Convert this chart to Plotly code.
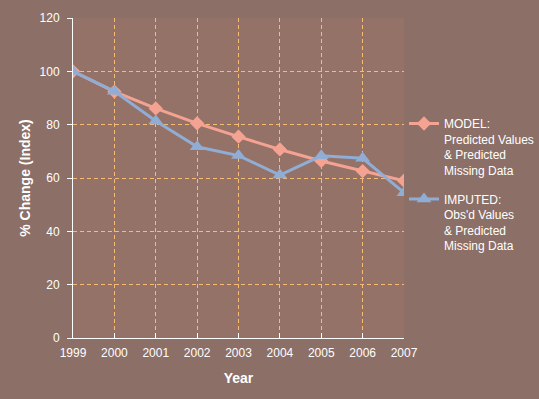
import plotly.graph_objects as go

years = [1999, 2000, 2001, 2002, 2003, 2004, 2005, 2006, 2007]
model = [100, 92.4, 86.1, 80.5, 75.5, 70.7, 66.4, 62.6, 59.0]
imputed = [100, 92.5, 81.4, 71.7, 68.4, 61.1, 68.3, 67.4, 54.5]
model_name = "MODEL:<br>Predicted Values<br>& Predicted<br>Missing Data"
imputed_name = "IMPUTED:<br>Obs'd Values<br>& Predicted<br>Missing Data"

fig = go.Figure()
fig.add_trace(go.Scatter(
    x=years, y=model, name=model_name, mode="lines+markers", legendgroup="a",
    line=dict(color="#F4A292", width=3),
    marker=dict(symbol="diamond", size=11, color="#F4A292"),
))
fig.add_trace(go.Scatter(
    x=years, y=imputed, name=imputed_name, mode="lines+markers", legendgroup="b",
    line=dict(color="#8FADD5", width=3),
    marker=dict(symbol="triangle-up", size=13, color="#8FADD5"),
))

grid = dict(showgrid=True, gridcolor="#F7BC72", griddash="4px,3px", gridwidth=1)
fig.update_layout(
    width=539, height=399,
    paper_bgcolor="#8C6F66",
    plot_bgcolor="#957267",
    margin=dict(l=73, r=135, t=18, b=61, autoexpand=False),
    font=dict(family="Liberation Sans, Arial", color="#FFFFFF", size=12),
    xaxis=dict(
        range=[1999, 2007], tickmode="array", tickvals=years,
        ticktext=[str(y) for y in years],
        showline=True, linecolor="#FFFFFF", linewidth=1,
        ticks="inside", ticklen=5, tickcolor="#FFFFFF",
        ticklabelstandoff=4,
        zeroline=False,
        title=dict(text="<b>Year</b>", font=dict(size=14), standoff=13),
        **grid,
    ),
    yaxis=dict(
        range=[0, 120], tickmode="array", tickvals=[0, 20, 40, 60, 80, 100, 120],
        showline=True, linecolor="#FFFFFF", linewidth=1,
        ticks="outside", ticklen=5, tickcolor="#FFFFFF",
        ticklabelstandoff=5,
        zeroline=False,
        title=dict(text="<b>% Change (Index)</b>", font=dict(size=14), standoff=5),
        **grid,
    ),
    legend=dict(
        x=1.0, y=0.715, xanchor="left", yanchor="top",
        valign="top", bgcolor="rgba(0,0,0,0)",
        traceorder="grouped", tracegroupgap=10,
        font=dict(family="Liberation Sans, Arial", size=12, color="#FFFFFF"),
    ),
    showlegend=True,
)
fig.write_html("out.html", config={"displayModeBar": False},
               post_script="document.body.style.margin='0';document.body.style.overflow='hidden';")
